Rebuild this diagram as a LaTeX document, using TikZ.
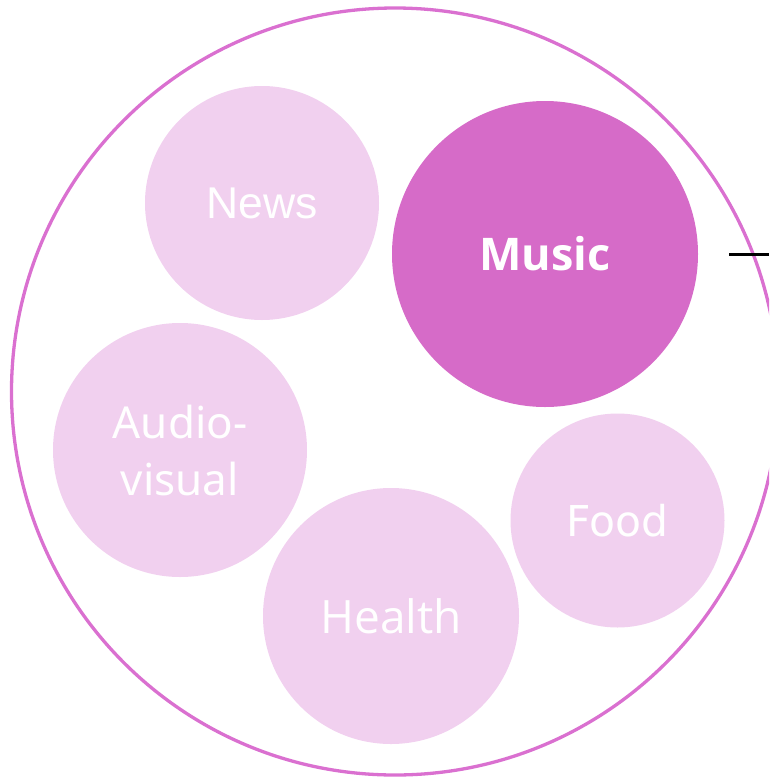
\documentclass[tikz,border=0pt]{standalone}
\usepackage{fontspec}
\setmainfont{Liberation Sans}
\newfontfamily\newsfont{Liberation Sans}
\newfontfamily\avfont{Noto Sans}
\newfontfamily\musicfont{Open Sans}
\newfontfamily\foodfont{DejaVu Sans}
\newfontfamily\healthfont{Open Sans}
\definecolor{ring}{HTML}{DA70D0}
\definecolor{musicfill}{HTML}{D66BC8}
\definecolor{lightfill}{HTML}{F1D0EF}
\begin{document}
\begin{tikzpicture}[x=1pt,y=-1pt,
  bubble/.style={circle, inner sep=0pt, text=white, align=center},
  minor/.style={bubble, fill=lightfill},
  major/.style={bubble, fill=musicfill}]
\useasboundingbox (0,0) rectangle (769,777);
\clip (0,0) rectangle (769,777);
\node[circle, draw=ring, line width=3.3pt, minimum size=767pt, inner sep=0pt] (outer) at (395,391.5) {};
\node[minor, minimum size=234pt, font=\newsfont\fontsize{44.5}{50}\selectfont] (news) at (262,203) {News};
\node[minor, minimum size=254pt, font=\avfont\fontsize{44}{57}\selectfont] (av) at (180,450) {Audio-\\visual};
\node[major, minimum size=306pt, font=\musicfont\bfseries\fontsize{45}{50}\selectfont] (music) at (545,254) {Music};
\node[minor, minimum size=214pt, font=\foodfont\fontsize{42.5}{50}\selectfont] (food) at (617.5,520.5) {Food};
\node[minor, minimum size=256pt, font=\healthfont\fontsize{46}{50}\selectfont] (health) at (391,616) {Health};
\coordinate (tickL) at (729,254);
\coordinate (tickR) at (769,254);
\draw[line width=3pt, black] (tickL) -- (tickR);
\end{tikzpicture}
\end{document}
